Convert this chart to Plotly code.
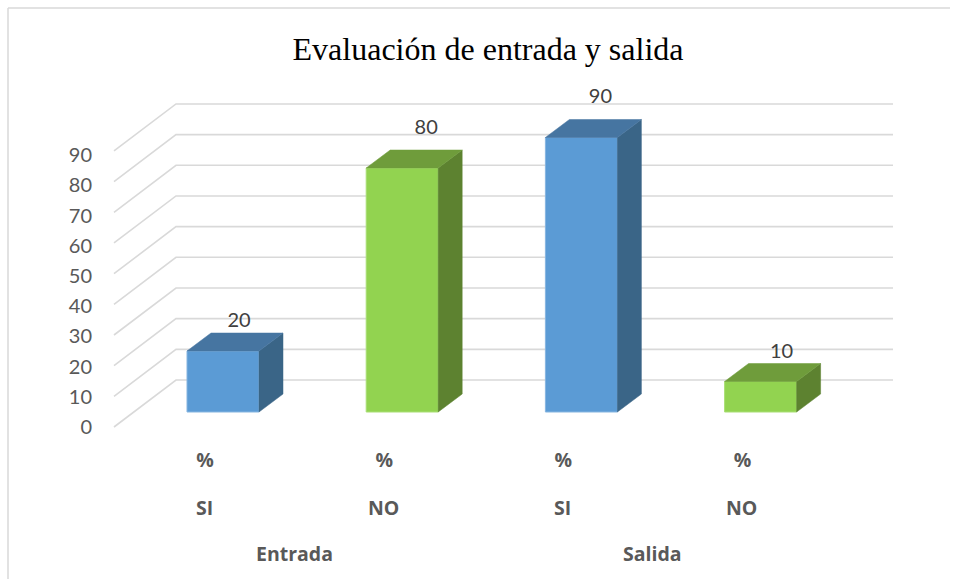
import plotly.graph_objects as go

# ---- data ----
groups = ["Entrada", "Entrada", "Salida", "Salida"]
answers = ["SI", "NO", "SI", "NO"]
units = ["%", "%", "%", "%"]
values = [20, 80, 90, 10]
y_ticks = [0, 10, 20, 30, 40, 50, 60, 70, 80, 90]
group_names = ["Entrada", "Salida"]
title_text = "Evaluación de entrada y salida"

# ---- style / geometry (pixels of the 959x579 page) ----
W, H = 959, 579
L, R, T, B = 110, 897, 60, 440        # plot area
SLOT = 179.2; X0 = 223                # category spacing, first bar centre
BAR_W = 72                            # bar front width
DX, DY = 24, 18                       # bar depth
BAR_BASE = 412; BAR_SCALE = 3.05      # value scale on the bar front plane
AX_BASE = 427; AX_SCALE = 3.067       # value scale on the front edge of the floor
LABEL_BASE = 427; LABEL_SCALE = 3.02  # tick labels sit on a slightly tighter scale
WALL_DX, WALL_DY = 62, 47             # floor depth
AX_FRONT = 114; GRID_RIGHT = 893
LABEL_DX = [16, 24, 19, 21]
LABEL_DY = [11, 21, 22, 11]

FRONT = {"SI": "#5b9bd5", "NO": "#92d350"}
TOP = {"SI": "#4675a1", "NO": "#6f9c3b"}
SIDE = {"SI": "#3a6587", "NO": "#5d8230"}
EDGE = {"SI": "#86b5e0", "NO": "#a9de74"}
GRID = "#d9d9d9"
FONT = "Lato"
CAT_FONT = "Open Sans"


def xd(px):
    return (px - X0) / SLOT


def px_x(px):
    return (px - L) / (R - L)


def px_y(py):
    return (B - py) / (B - T)


centers = list(range(len(values)))
half = BAR_W / SLOT / 2
ddx = DX / SLOT
ddy = DY / BAR_SCALE

fig = go.Figure()

# gridlines: front edge of floor, up the floor, along the back wall (base subplot, under the bars)
wall_dy = WALL_DY / AX_SCALE
for v in y_ticks:
    fig.add_trace(go.Scatter(
        x=[xd(AX_FRONT), xd(AX_FRONT + WALL_DX), xd(GRID_RIGHT)],
        y=[v, v + wall_dy, v + wall_dy],
        mode="lines", line=dict(color=GRID, width=1.6),
        hoverinfo="skip", xaxis="x", yaxis="y"))

# bar fronts
fig.add_trace(go.Bar(
    x=centers, y=values, width=BAR_W / SLOT,
    marker=dict(color=[FRONT[a] for a in answers],
                line=dict(color=[EDGE[a] for a in answers], width=1)),
    xaxis="x", yaxis="y2", hoverinfo="skip"))

# bar depth faces
for c, v, a in zip(centers, values, answers):
    fig.add_trace(go.Scatter(
        x=[c + half, c + half + ddx, c + half + ddx, c + half, c + half],
        y=[0, ddy, v + ddy, v, 0],
        mode="lines", fill="toself", fillcolor=SIDE[a],
        line=dict(color=SIDE[a], width=0.5),
        hoverinfo="skip", xaxis="x", yaxis="y2"))
    fig.add_trace(go.Scatter(
        x=[c - half, c - half + ddx, c + half + ddx, c + half, c - half],
        y=[v, v + ddy, v + ddy, v, v],
        mode="lines", fill="toself", fillcolor=TOP[a],
        line=dict(color=TOP[a], width=0.5),
        hoverinfo="skip", xaxis="x", yaxis="y2"))

# data labels
fig.add_trace(go.Scatter(
    x=[c + dx / SLOT for c, dx in zip(centers, LABEL_DX)],
    y=[v + (DY + dy) / BAR_SCALE for v, dy in zip(values, LABEL_DY)],
    text=[str(v) for v in values], mode="text", textposition="middle center",
    textfont=dict(family=FONT, size=20, color="#404040"),
    hoverinfo="skip", xaxis="x", yaxis="y2", cliponaxis=False))

# invisible carrier that keeps the tick-label axis alive
fig.add_trace(go.Scatter(x=[centers[0]] * len(y_ticks), y=y_ticks, mode="markers",
                         marker=dict(opacity=0), hoverinfo="skip", xaxis="x", yaxis="y3"))

# second and third level of the category axis
annotations = []
for c, a in zip(centers, answers):
    annotations.append(dict(text=f"<b>{a}</b>", xref="x", yref="paper",
                            x=c - 19 / SLOT, y=px_y(507),
                            showarrow=False, xanchor="center", yanchor="middle",
                            font=dict(family=CAT_FONT, size=19.5, color="#595959")))
for g in group_names:
    idx = [i for i, name in enumerate(groups) if name == g]
    mid = sum(idx) / len(idx)
    annotations.append(dict(text=f"<b>{g}</b>", xref="x", yref="paper",
                            x=mid - 18.5 / SLOT, y=px_y(553),
                            showarrow=False, xanchor="center", yanchor="middle",
                            font=dict(family=CAT_FONT, size=19.5, color="#595959")))

# chart frame: top and left edges only
frame = [
    dict(type="line", xref="paper", yref="paper", x0=px_x(8), x1=px_x(950), y0=px_y(8), y1=px_y(8),
         line=dict(color=GRID, width=1.5)),
    dict(type="line", xref="paper", yref="paper", x0=px_x(8), x1=px_x(8), y0=px_y(8), y1=px_y(579),
         line=dict(color=GRID, width=1.5)),
]

fig.update_layout(
    width=W, height=H,
    margin=dict(l=L, r=W - R, t=T, b=H - B, pad=0, autoexpand=False),
    paper_bgcolor="white", plot_bgcolor="white", showlegend=False,
    title=dict(text=title_text, x=488 / W, xanchor="center", xref="container", y=1 - 49 / H, yanchor="middle",
               font=dict(family="Liberation Serif", size=32, color="#000000")),
    xaxis=dict(range=[xd(L), xd(R)], showgrid=False, zeroline=False, showline=False,
               tickmode="array", tickvals=[c - 18 / SLOT for c in centers],
               ticktext=[f"<b>{u}</b>" for u in units],
               ticks="", ticklabelstandoff=6,
               tickfont=dict(family=CAT_FONT, size=19.5, color="#595959"), tickangle=0),
    yaxis=dict(range=[(AX_BASE - B) / AX_SCALE, (AX_BASE - T) / AX_SCALE], visible=False),
    yaxis2=dict(range=[(BAR_BASE - B) / BAR_SCALE, (BAR_BASE - T) / BAR_SCALE], overlaying="y",
                visible=False),
    yaxis3=dict(range=[(LABEL_BASE - B) / LABEL_SCALE, (LABEL_BASE - T) / LABEL_SCALE], overlaying="y",
                showgrid=False, zeroline=False, showline=False, tickmode="array", tickvals=y_ticks,
                ticktext=[str(v) for v in y_ticks], ticks="", ticklabelstandoff=17,
                tickfont=dict(family=FONT, size=20, color="#595959")),
    annotations=annotations, shapes=frame,
)

fig.write_html("out.html", config={"displayModeBar": False},
               post_script="document.body.style.margin='0';document.body.style.overflow='hidden';")
